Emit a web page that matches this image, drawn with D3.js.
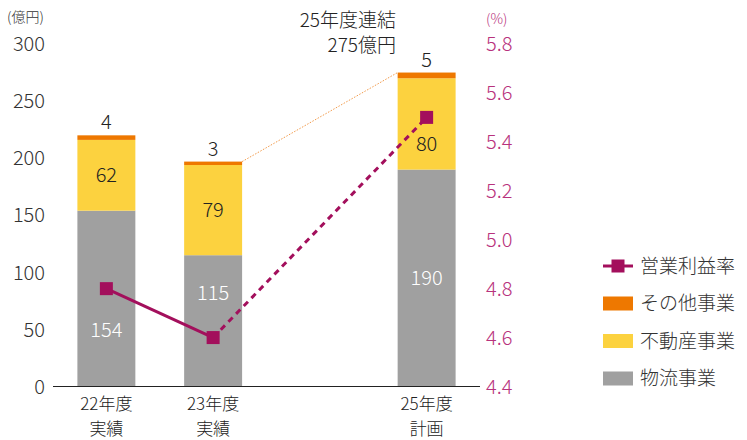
<!DOCTYPE html>
<html>
<head>
<meta charset="utf-8">
<script src="https://cdn.jsdelivr.net/npm/d3@7"></script>
<style>
  body { margin: 0; background: #fff; }
  svg { display: block; font-family: 'Noto Sans CJK JP', 'Noto Sans', sans-serif; font-weight: 300; }
</style>
</head>
<body>
<figure style="margin:0"></figure>
<script>
const width = 747
const height = 440

// data
const years = ['22年度', '23年度', '', '25年度']
const yearSub = ['実績', '実績', '', '計画']
const barSlots = [0, 1, 3]
const logistics = [154, 115, 190]
const realEstate = [62, 79, 80]
const other = [4, 3, 5]
const margin = [4.8, 4.6, 5.5]
// label anchor values (億円) for the inner labels, placed around the markers
const logisticsLabelAt = [50, 82, 190 / 2]
const realEstateLabelAt = [154 + 62 / 2, 115 + 79 / 2, 190 + 80 * 0.28]
const leftTicks = [0, 50, 100, 150, 200, 250, 300]
const rightTicks = [4.4, 4.6, 4.8, 5.0, 5.2, 5.4, 5.6, 5.8]
const legendItems = ['営業利益率', 'その他事業', '不動産事業', '物流事業']

const colors = { gray: '#a0a0a0', yellow: '#fcd23f', orange: '#ee7800', line: '#a30f5c', pct: '#b8327d', text: '#333' }
const numSize = '20px'
const labelSize = '19px'

const svg = d3.select('figure').append('svg')
  .attr('width', width)
  .attr('height', height)

const x = d3.scaleBand()
  .domain(d3.range(years.length))
  .range([53, 480])
  .paddingInner(0.457)
  .paddingOuter(0.2285)

const y = d3.scaleLinear().domain([0, 300]).range([386.5, 44])
const y2 = d3.scaleLinear().domain([4.4, 5.8]).range([386.5, 44])

// left axis labels
svg.append('g')
  .selectAll('text')
  .data(leftTicks)
  .join('text')
  .attr('x', 45)
  .attr('y', d => y(d))
  .attr('dy', '0.36em')
  .attr('text-anchor', 'end')
  .attr('fill', colors.text)
  .style('font-size', numSize)
  .text(d => d)

svg.append('text')
  .attr('x', 7).attr('y', 22)
  .attr('fill', colors.text)
  .style('font-size', '14px')
  .text('(億円)')

// right axis labels
svg.append('g')
  .selectAll('text')
  .data(rightTicks)
  .join('text')
  .attr('x', 486)
  .attr('y', d => y2(d))
  .attr('dy', '0.36em')
  .attr('fill', colors.pct)
  .style('font-size', numSize)
  .text(d => d.toFixed(1))

svg.append('text')
  .attr('x', 486).attr('y', 24)
  .attr('fill', colors.pct)
  .style('font-size', '14px')
  .text('(%)')

// stacked bars
const stacks = barSlots.map((s, i) => {
  const a = logistics[i]
  const b = a + realEstate[i]
  const c = b + other[i]
  return { slot: s, parts: [[0, a, colors.gray], [a, b, colors.yellow], [b, c, colors.orange]] }
})

const barG = svg.append('g')
stacks.forEach(st => {
  barG.selectAll(null)
    .data(st.parts)
    .join('rect')
    .attr('x', x(st.slot))
    .attr('width', x.bandwidth())
    .attr('y', d => y(d[1]))
    .attr('height', d => y(d[0]) - y(d[1]))
    .attr('fill', d => d[2])
})

// axis baseline
svg.append('line')
  .attr('x1', 53).attr('x2', 480)
  .attr('y1', y(0)).attr('y2', y(0))
  .attr('stroke', '#222')
  .attr('stroke-width', 1.2)

// dotted connector from 23 to 25 totals
const tot = barSlots.map((s, i) => logistics[i] + realEstate[i] + other[i])
svg.append('line')
  .attr('x1', x(1) + x.bandwidth()).attr('y1', y(tot[1]))
  .attr('x2', x(3)).attr('y2', y(tot[2]))
  .attr('stroke', '#f29a4a')
  .attr('stroke-width', 1)
  .attr('stroke-dasharray', '1.5,1.5')

// bar value labels
const cx = i => x(barSlots[i]) + x.bandwidth() / 2
svg.append('g')
  .selectAll('text')
  .data(logistics)
  .join('text')
  .attr('x', (d, i) => cx(i))
  .attr('y', (d, i) => y(logisticsLabelAt[i]))
  .attr('dy', '0.36em')
  .attr('text-anchor', 'middle')
  .attr('fill', '#fff')
  .style('font-size', numSize)
  .text(d => d)

svg.append('g')
  .selectAll('text')
  .data(realEstate)
  .join('text')
  .attr('x', (d, i) => cx(i))
  .attr('y', (d, i) => y(realEstateLabelAt[i]))
  .attr('dy', '0.36em')
  .attr('text-anchor', 'middle')
  .attr('fill', '#222')
  .style('font-size', numSize)
  .text(d => d)

svg.append('g')
  .selectAll('text')
  .data(other)
  .join('text')
  .attr('x', (d, i) => cx(i))
  .attr('y', (d, i) => y(tot[i]) - 6)
  .attr('text-anchor', 'middle')
  .attr('fill', '#222')
  .style('font-size', numSize)
  .text(d => d)

// annotation
const ann = svg.append('text')
  .attr('text-anchor', 'end')
  .attr('fill', '#222')
  .style('font-size', labelSize)
ann.append('tspan').attr('x', 396).attr('y', 27).text('25年度連結')
ann.append('tspan').attr('x', 396).attr('y', 52).text('275億円')

// margin line
const pts = margin.map((m, i) => [cx(i), y2(m)])
svg.append('line')
  .attr('x1', pts[0][0]).attr('y1', pts[0][1])
  .attr('x2', pts[1][0]).attr('y2', pts[1][1])
  .attr('stroke', colors.line)
  .attr('stroke-width', 3)
svg.append('line')
  .attr('x1', pts[1][0]).attr('y1', pts[1][1])
  .attr('x2', pts[2][0]).attr('y2', pts[2][1])
  .attr('stroke', colors.line)
  .attr('stroke-width', 3)
  .attr('stroke-dasharray', '6,5')

svg.append('g')
  .selectAll('rect')
  .data(pts)
  .join('rect')
  .attr('x', d => d[0] - 6.5)
  .attr('y', d => d[1] - 6.5)
  .attr('width', 13)
  .attr('height', 13)
  .attr('fill', colors.line)

// x labels (two separate lines)
const xl = svg.append('g')
  .attr('text-anchor', 'middle')
  .attr('fill', '#222')
  .style('font-size', '17px')
years.forEach((yr, i) => {
  if (!yr) return
  const mx = x(i) + x.bandwidth() / 2
  xl.append('text').attr('x', mx).attr('y', 410).text(yr)
  xl.append('text').attr('x', mx).attr('y', 435).text(yearSub[i])
})

// legend
const legendColors = [colors.line, colors.orange, colors.yellow, colors.gray]
const lg = svg.append('g').attr('transform', 'translate(603,266)')
legendItems.forEach((name, i) => {
  const row = lg.append('g').attr('transform', `translate(0,${i * 37.5})`)
  if (i === 0) {
    row.append('line').attr('x1', 0).attr('x2', 30).attr('y1', 0).attr('y2', 0)
      .attr('stroke', colors.line).attr('stroke-width', 3)
    row.append('rect').attr('x', 8.5).attr('y', -6.5).attr('width', 13).attr('height', 13)
      .attr('fill', colors.line)
  } else {
    row.append('rect').attr('x', 0).attr('y', -7).attr('width', 30).attr('height', 14)
      .attr('fill', legendColors[i])
  }
  row.append('text')
    .attr('x', 37)
    .attr('dy', '0.36em')
    .attr('fill', '#333')
    .style('font-size', labelSize)
    .text(name)
})
</script>
</body>
</html>
